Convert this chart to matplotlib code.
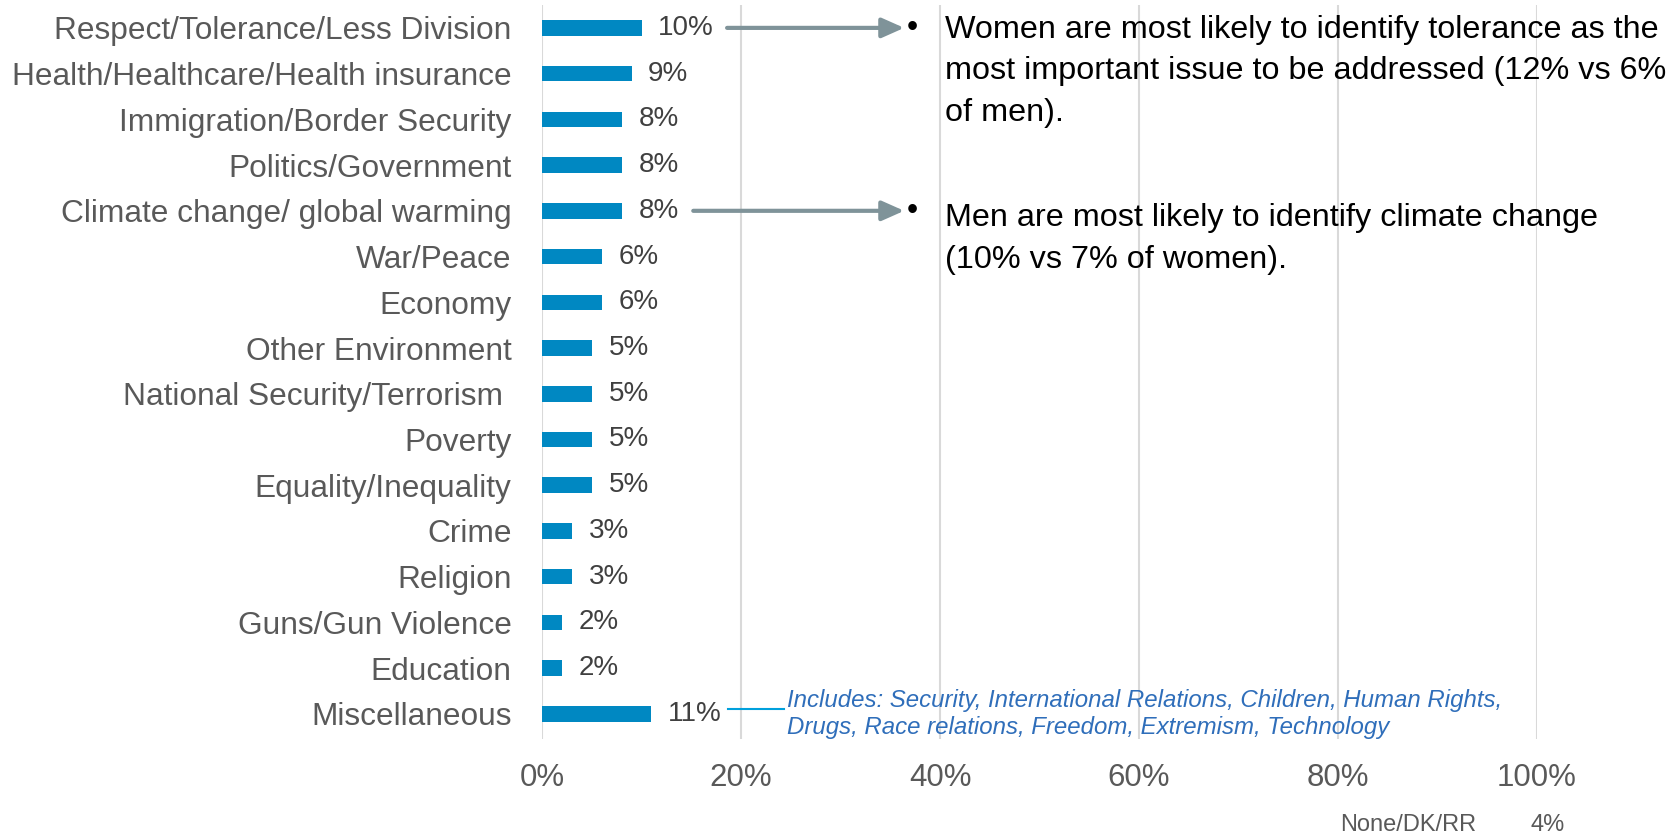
import matplotlib
matplotlib.use("Agg")
import matplotlib.pyplot as plt
from matplotlib.ticker import FuncFormatter

plt.rcParams['font.family'] = ['Liberation Sans', 'DejaVu Sans']

# most important issue to be addressed, share of respondents (%)
issues = [
    "Respect/Tolerance/Less Division",
    "Health/Healthcare/Health insurance",
    "Immigration/Border Security",
    "Politics/Government",
    "Climate change/ global warming",
    "War/Peace",
    "Economy",
    "Other Environment",
    "National Security/Terrorism ",
    "Poverty",
    "Equality/Inequality",
    "Crime",
    "Religion",
    "Guns/Gun Violence",
    "Education",
    "Miscellaneous",
]
shares = [10, 9, 8, 8, 8, 6, 6, 5, 5, 5, 5, 3, 3, 2, 2, 11]
x_ticks = [0, 20, 40, 60, 80, 100]

none_label = "None/DK/RR"
none_share = 4

note_women = ("Women are most likely to identify tolerance as the\n"
              "most important issue to be addressed (12% vs 6%\n"
              "of men).")
note_men = ("Men are most likely to identify climate change\n"
            "(10% vs 7% of women).")
misc_note = ("Includes: Security, International Relations, Children, Human Rights,\n"
             "Drugs, Race relations, Freedom, Extremism, Technology")

bar_color = '#0088C2'
label_gray = '#595959'
arrow_gray = '#7F9399'

fig = plt.figure(figsize=(16.75, 8.36), dpi=100)
ax = fig.add_axes([0.3236, 0.116, 0.5940, 0.878])

pos = list(range(len(issues)))
ax.barh(pos, shares, height=0.34, color=bar_color, zorder=3)

for p, v in zip(pos, shares):
    ax.annotate(f"{v}%", (v, p), xytext=(12, 0), textcoords='offset points',
                va='center', ha='left', fontsize=20, color='#404040')

ax.set_xlim(0, 100)
ax.set_ylim(15.55, -0.5)
ax.set_xticks(x_ticks)
ax.xaxis.set_major_formatter(FuncFormatter(lambda v, _: f"{v:.0f}%"))
ax.set_yticks(pos)
ax.set_yticklabels(issues)
ax.tick_params(axis='y', length=0, pad=22, labelsize=22.8, labelcolor=label_gray)
ax.tick_params(axis='x', length=0, pad=17, labelsize=22.5, labelcolor=label_gray)
ax.grid(axis='x', color='#D9D9D9', linewidth=1.5, zorder=0)
for s in ax.spines.values():
    s.set_visible(False)

# arrows pointing from the highlighted bars to the notes
arrow = dict(arrowstyle='-|>,head_length=0.45,head_width=0.2', color=arrow_gray,
             lw=3, mutation_scale=30, shrinkA=0, shrinkB=0)
ax.annotate("", xy=(36.4, 0), xytext=(18.6, 0), arrowprops=arrow,
            annotation_clip=False)
ax.annotate("", xy=(36.4, 4), xytext=(15.2, 4), arrowprops=arrow,
            annotation_clip=False)

ax.text(36.7, 0, "•", fontsize=23, va='center', ha='left', color='black')
ax.text(40.5, 0.95, note_women, fontsize=23.3, va='center', ha='left',
        color='black', linespacing=1.5)
ax.text(36.7, 4, "•", fontsize=23, va='center', ha='left', color='black')
ax.text(40.5, 4.62, note_men, fontsize=23.3, va='center', ha='left',
        color='black', linespacing=1.5)

# miscellaneous breakdown
ax.plot([18.7, 24.3], [14.9, 14.9], color='#00A0DC', lw=1.5, clip_on=False)
ax.text(24.6, 15, misc_note, fontsize=17.3, style='italic', color='#2F6EBA',
        va='center', ha='left', linespacing=1.23)

fig.text(0.800, 0.013, none_label, fontsize=17, color=label_gray,
         va='center', ha='left')
fig.text(0.914, 0.013, f"{none_share}%", fontsize=17, color=label_gray,
         va='center', ha='left')

fig.savefig("out.png", dpi=100)
